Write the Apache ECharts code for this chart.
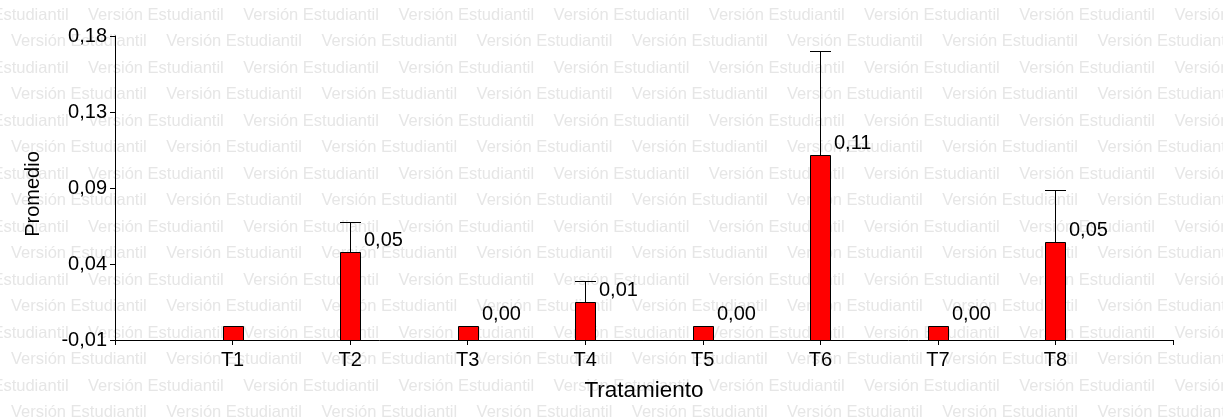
<!DOCTYPE html>
<html><head><meta charset="utf-8">
<script src="https://cdn.jsdelivr.net/npm/echarts@6/dist/echarts.min.js"></script>
<style>html,body{margin:0;padding:0;background:#fff}#c{width:1223px;height:420px}</style>
</head><body><div id="c"></div>
<script>
const categories = ['T1', 'T2', 'T3', 'T4', 'T5', 'T6', 'T7', 'T8'];
const means = [-0.001, 0.0448, -0.001, 0.0136, -0.001, 0.1056, -0.001, 0.0514];
const errorTops = [null, 0.0636, null, 0.0269, null, 0.1708, null, 0.0838];
const valueLabels = ['', '0,05', '0,00', '0,01', '0,00', '0,11', '0,00', '0,05'];
const yTickValues = [-0.01, 0.0375, 0.085, 0.1325, 0.18];
const yTickLabels = ['-0,01', '0,04', '0,09', '0,13', '0,18'];
const yMin = -0.01;
const yMax = 0.18;
const xTitle = 'Tratamiento';
const yTitle = 'Promedio';
const watermarkText = 'Versión Estudiantil';

const FONT = '"Liberation Sans", Arial, sans-serif';

function tickLabel(v) {
  let best = 0, bd = Infinity;
  yTickValues.forEach((t, i) => { const d = Math.abs(t - v); if (d < bd) { bd = d; best = i; } });
  return yTickLabels[best];
}

// background watermark (decoration)
const wm = [];
for (let k = 0; k < 17; k++) {
  const y = 15 + 26.5 * k;
  const x0 = (k % 2 === 0 ? 88 : 11) - 155.2 * 2;
  for (let x = x0; x < 1223; x += 155.2) {
    if (x < -160) continue;
    wm.push({
      type: 'text', x: x, y: y, z: -10, silent: true,
      style: { text: watermarkText, fill: '#e6e6e6', fontSize: 16.5, fontFamily: FONT, verticalAlign: 'middle', align: 'left' }
    });
  }
}

const seriesData = categories.map((c, i) => [i + 1, means[i], errorTops[i] == null ? '-' : errorTops[i]]);

const chart = echarts.init(document.getElementById('c'), null, { renderer: 'canvas' });
chart.setOption({
  backgroundColor: '#fff',
  animation: false,
  graphic: { elements: wm },
  grid: { left: 115, right: 50, top: 36, bottom: 80 },
  xAxis: {
    type: 'category',
    data: [''].concat(categories, [' ']),
    boundaryGap: false,
    name: xTitle,
    nameLocation: 'middle',
    nameGap: 39,
    nameTextStyle: { fontSize: 22.5, color: '#000', fontFamily: FONT },
    axisLine: { onZero: false, lineStyle: { color: '#000', width: 1 } },
    axisTick: { show: true, interval: 0, length: 5, lineStyle: { color: '#000', width: 1 } },
    axisLabel: { interval: 0, fontSize: 20, color: '#000', fontFamily: FONT, margin: 10 },
    splitLine: { show: false }
  },
  yAxis: {
    type: 'value',
    min: yMin,
    max: yMax,
    name: yTitle,
    nameLocation: 'middle',
    nameGap: 72,
    nameTextStyle: { fontSize: 20, color: '#000', fontFamily: FONT, padding: [0, 12, 0, 0] },
    axisLine: { show: true, lineStyle: { color: '#000', width: 1 } },
    axisTick: { show: true, length: 5, customValues: yTickValues, lineStyle: { color: '#000', width: 1 } },
    axisLabel: { customValues: yTickValues, formatter: (v) => tickLabel(v), fontSize: 20, color: '#000', fontFamily: FONT, margin: 8 },
    splitLine: { show: false }
  },
  series: [{
    type: 'custom',
    data: seriesData,
    encode: { x: 0, y: 1 },
    renderItem: function (params, api) {
      const i = params.dataIndex;
      const cat = api.value(0);
      const m = api.value(1);
      const e = api.value(2);
      const top = api.coord([cat, m]);
      const base = api.coord([cat, yMin]);
      const w = 20;
      const cx = Math.round(top[0]);
      const ty = Math.round(top[1]) + 0.5;
      const by = Math.round(base[1]) + 0.5;
      const children = [];
      children.push({
        type: 'rect',
        shape: { x: cx - w / 2 + 0.5, y: ty, width: w, height: by - ty },
        style: { fill: '#ff0000', stroke: '#000', lineWidth: 1 }
      });
      if (!isNaN(e)) {
        const et = api.coord([cat, e]);
        const ey = Math.round(et[1]) + 0.5;
        children.push({ type: 'line', shape: { x1: cx + 0.5, y1: ty, x2: cx + 0.5, y2: ey }, style: { stroke: '#000', lineWidth: 1 } });
        children.push({ type: 'line', shape: { x1: cx - w / 2, y1: ey, x2: cx + w / 2 + 1, y2: ey }, style: { stroke: '#000', lineWidth: 1 } });
      }
      if (valueLabels[i]) {
        children.push({
          type: 'text', x: cx + w / 2 + 4, y: ty - 12,
          style: { text: valueLabels[i], fill: '#000', fontSize: 20, fontFamily: FONT, align: 'left', verticalAlign: 'middle' }
        });
      }
      return { type: 'group', children: children };
    }
  }]
});
</script>
</body></html>
